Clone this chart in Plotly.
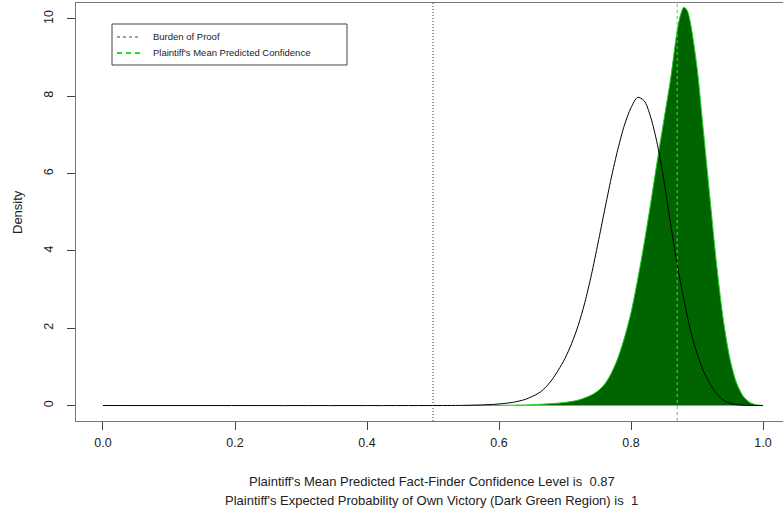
import plotly.graph_objects as go

# Black density curve
black_x = [0.00, 0.50, 0.55, 0.58, 0.60, 0.62, 0.64, 0.66, 0.67, 0.68, 0.69, 0.70, 0.71, 0.72,
           0.73, 0.74, 0.75, 0.76, 0.77, 0.78, 0.79, 0.80, 0.81, 0.82, 0.83, 0.84, 0.85, 0.86,
           0.87, 0.88, 0.89, 0.90, 0.91, 0.92, 0.93, 0.94, 0.95, 0.96, 0.98, 1.00]
black_y = [0.0, 0.0, 0.005, 0.02, 0.04, 0.08, 0.16, 0.32, 0.46, 0.66, 0.92, 1.22, 1.60, 2.07,
           2.66, 3.38, 4.20, 5.05, 5.88, 6.62, 7.25, 7.70, 7.97, 7.88, 7.45, 6.75, 5.80, 4.70,
           3.65, 2.75, 1.95, 1.35, 0.88, 0.55, 0.30, 0.14, 0.06, 0.02, 0.003, 0.0]

# Green (plaintiff) density curve
green_x = [0.55, 0.60, 0.65, 0.68, 0.70, 0.72, 0.74, 0.75, 0.76, 0.77, 0.78, 0.79, 0.80, 0.81,
           0.82, 0.83, 0.84, 0.85, 0.86, 0.87, 0.875, 0.88, 0.885, 0.89, 0.90, 0.91, 0.92, 0.93,
           0.94, 0.95, 0.96, 0.97, 0.98, 0.99, 1.00]
green_y = [0.001, 0.005, 0.02, 0.05, 0.08, 0.14, 0.27, 0.38, 0.55, 0.83, 1.22, 1.75, 2.40, 3.25,
           4.20, 5.25, 6.35, 7.40, 8.45, 9.70, 10.10, 10.30, 10.22, 9.90, 8.75, 7.05, 5.30, 3.60,
           2.20, 1.20, 0.58, 0.24, 0.08, 0.02, 0.0]

burden_of_proof = 0.5
mean_confidence = 0.87
expected_victory = 1

x_ticks = [0.0, 0.2, 0.4, 0.6, 0.8, 1.0]
y_ticks = [0, 2, 4, 6, 8, 10]

W, H = 783, 514
ML, MR, MT, MB = 76, 0, 3, 93
PW, PH = W - ML - MR, H - MT - MB

def px(x):
    return (x - ML) / PW

def py(y):
    return (H - MB - y) / PH

FONT = "Liberation Sans, Arial, Helvetica, sans-serif"

fig = go.Figure()
fig.add_trace(go.Scatter(
    x=green_x, y=green_y, mode="lines", fill="tozeroy", fillcolor="#006400",
    line=dict(color="#22cc22", width=1, shape="spline", smoothing=0.8),
    showlegend=False, hoverinfo="skip"))
fig.add_trace(go.Scatter(
    x=black_x, y=black_y, mode="lines",
    line=dict(color="black", width=1, shape="spline", smoothing=0.8),
    showlegend=False, hoverinfo="skip"))

# reference lines
fig.add_shape(type="line", xref="x", yref="paper", x0=burden_of_proof, x1=burden_of_proof,
              y0=0, y1=1, line=dict(color="#333333", width=1, dash="1px,2px"))
fig.add_shape(type="line", xref="x", yref="paper", x0=mean_confidence, x1=mean_confidence,
              y0=0, y1=1, line=dict(color="#55cc55", width=1, dash="3px,3px"))

# legend (drawn manually)
fig.add_shape(type="rect", xref="paper", yref="paper", x0=px(112), x1=px(347), y0=py(65), y1=py(24),
              line=dict(color="#444444", width=1), fillcolor="white")
fig.add_shape(type="line", xref="paper", yref="paper", x0=px(117), x1=px(140), y0=py(37), y1=py(37),
              line=dict(color="#334466", width=1.2, dash="3px,3px"))
fig.add_shape(type="line", xref="paper", yref="paper", x0=px(117), x1=px(140), y0=py(53), y1=py(53),
              line=dict(color="#22dd22", width=2, dash="5px,4px"))
fig.add_annotation(xref="paper", yref="paper", x=px(151), y=py(37), xanchor="left", yanchor="middle",
                   text="Burden of Proof", showarrow=False, font=dict(family=FONT, size=9.5, color="#222"))
fig.add_annotation(xref="paper", yref="paper", x=px(151), y=py(53), xanchor="left", yanchor="middle",
                   text="Plaintiff's Mean Predicted Confidence", showarrow=False,
                   font=dict(family=FONT, size=9.5, color="#222"))

# axis titles
fig.add_annotation(xref="paper", yref="paper", x=px(432), y=py(482), xanchor="center", yanchor="middle",
                   text=f"Plaintiff's Mean Predicted Fact-Finder Confidence Level is  {mean_confidence}",
                   showarrow=False, font=dict(family=FONT, size=13, color="#222"))
fig.add_annotation(xref="paper", yref="paper", x=px(432), y=py(500), xanchor="center", yanchor="middle",
                   text=f"Plaintiff's Expected Probability of Own Victory (Dark Green Region) is  {expected_victory}",
                   showarrow=False, font=dict(family=FONT, size=13, color="#222"))
fig.add_annotation(xref="paper", yref="paper", x=px(17), y=py(212), xanchor="center", yanchor="middle",
                   text="Density", textangle=-90, showarrow=False, font=dict(family=FONT, size=13, color="#222"))

fig.update_layout(
    width=W, height=H,
    margin=dict(l=ML, r=MR, t=MT, b=MB),
    paper_bgcolor="white", plot_bgcolor="white",
    showlegend=False,
    xaxis=dict(range=[-0.0409, 1.0303], tickvals=x_ticks, ticktext=[f"{v:.1f}" for v in x_ticks],
               showgrid=False, zeroline=False, showline=True, mirror=True, linecolor="#777777",
               linewidth=1, ticks="outside", ticklen=8, tickcolor="#444444",
               tickfont=dict(family=FONT, size=12.5, color="#222"), ticklabelstandoff=2),
    yaxis=dict(range=[-0.40, 10.41], tickvals=y_ticks, showgrid=False, zeroline=False,
               showline=True, mirror=False, linecolor="#777777", linewidth=1,
               ticks="outside", ticklen=8, tickcolor="#444444", tickangle=-90,
               tickfont=dict(family=FONT, size=12.5, color="#222"), ticklabelstandoff=9),
)

fig.write_html("out.html")
